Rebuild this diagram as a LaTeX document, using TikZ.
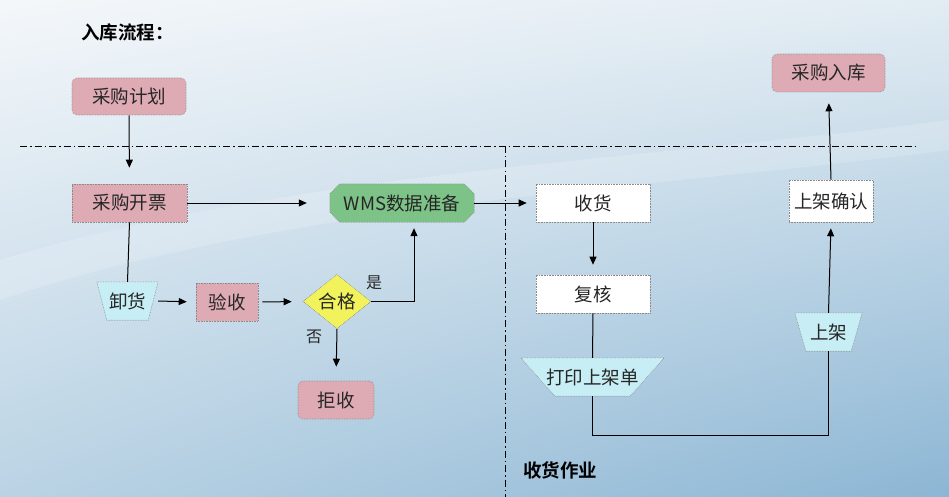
\documentclass[tikz,border=0pt]{standalone}
\usepackage{fontspec}
\setmainfont{Noto Sans CJK SC}[BoldFont={* Bold}]
\usetikzlibrary{arrows.meta,shapes.geometric,shadings}
\pgfdeclarelayer{bgimg}
\pgfdeclarelayer{bg}
\pgfsetlayers{bgimg,bg,main}
\definecolor{pinkf}{HTML}{DEABB4}
\definecolor{greenf}{HTML}{7DC287}
\definecolor{yellowf}{HTML}{F2F25C}
\definecolor{cyanf}{HTML}{C6EEF4}
\definecolor{bordc}{HTML}{8A8A8A}
\definecolor{txtc}{HTML}{262626}
\definecolor{bgul}{HTML}{F4F7FA}
\definecolor{bgur}{HTML}{E2ECF3}
\definecolor{bgll}{HTML}{BAD3E4}
\definecolor{bglr}{HTML}{8CB6D4}
\tikzset{
  x=1pt, y=-1pt,
  lbl/.style={font=\fontsize{18.5}{22}\selectfont, text=txtc, inner sep=0pt},
  boxbase/.style={lbl, draw=bordc, densely dotted, line width=0.6pt},
  pinkbox/.style={boxbase, fill=pinkf, rectangle},
  pinkround/.style={pinkbox, rounded corners=5pt},
  whitebox/.style={boxbase, fill=white, rectangle},
  shapefill/.style={draw=bordc, densely dotted, line width=0.6pt},
  arr/.style={-{Triangle[length=8pt,width=7pt]}, line width=1pt, black},
  ln/.style={line width=1pt, black},
  dashdot/.style={line width=0.8pt, dash pattern=on 7pt off 3pt on 1.5pt off 3pt},
  ttl/.style={font=\bfseries\fontsize{18.5}{22}\selectfont, anchor=west, inner sep=0pt, text=black},
}
\begin{document}
\begin{tikzpicture}
\useasboundingbox (0,0) rectangle (949,497);
% background
\begin{pgfonlayer}{bgimg}
\shade[upper left=bgul, upper right=bgur, lower left=bgll, lower right=bglr]
  (0,0) rectangle (949,497);
\fill[white, opacity=0.18] (0,300) .. controls (300,200) and (650,190) .. (949,150) -- (949,120) .. controls (650,160) and (300,170) .. (0,260) -- cycle;
\end{pgfonlayer}

% titles
\node[ttl] (title) at (81,32) {入库流程：};
\node[ttl] (sh) at (523,470) {收货作业};

% separators
\coordinate (hl) at (20,146);
\coordinate (hr) at (917,146);
\coordinate (vt) at (505,146);
\coordinate (vb) at (505,497);
\draw[dashdot] (hl) -- (hr);
\draw[dashdot] (vt) -- (vb);

% nodes
\node[pinkround, minimum width=114pt, minimum height=37pt] (jh) at (129,96.5) {采购计划};
\node[pinkbox, minimum width=115pt, minimum height=38pt] (kp) at (129.5,203) {采购开票};
\node[lbl, minimum width=144pt, minimum height=38pt] (wms) at (402,203) {WMS数据准备};
\begin{pgfonlayer}{bg}
\filldraw[shapefill, fill=greenf] ([xshift=10pt]wms.north west) -- ([xshift=-10pt]wms.north east) -- ([yshift=-10pt]wms.north east) -- ([yshift=10pt]wms.south east) -- ([xshift=-10pt]wms.south east) -- ([xshift=10pt]wms.south west) -- ([yshift=10pt]wms.south west) -- ([yshift=-10pt]wms.north west) -- cycle;
\end{pgfonlayer}
\node[whitebox, minimum width=114pt, minimum height=38pt] (shou) at (593,203) {收货};
\node[lbl, minimum width=61pt, minimum height=38pt] (xh) at (127.5,301) {卸货};
\begin{pgfonlayer}{bg}
\filldraw[shapefill, fill=cyanf] (xh.north west) -- (xh.north east) -- ([xshift=-10pt]xh.south east) -- ([xshift=10pt]xh.south west) -- cycle;
\end{pgfonlayer}
\node[pinkbox, minimum width=62pt, minimum height=38pt] (ys) at (227,302) {验收};
\node[lbl, diamond, draw=bordc, densely dotted, line width=0.6pt, fill=yellowf, minimum width=68pt, minimum height=53pt] (hg) at (337,301.5) {合格};
\node[pinkround, minimum width=76pt, minimum height=38pt] (js) at (336,400) {拒收};
\node[lbl, font=\fontsize{16}{19}\selectfont] (shi) at (374,283) {是};
\node[lbl, font=\fontsize{16}{19}\selectfont] (fou) at (314,337) {否};
\node[whitebox, minimum width=114pt, minimum height=38pt] (fh) at (593,294) {复核};
\node[lbl, minimum width=143pt, minimum height=38pt] (dy) at (592.5,377) {打印上架单};
\begin{pgfonlayer}{bg}
\filldraw[shapefill, fill=cyanf] (dy.north west) -- (dy.north east) -- ([xshift=-34pt]dy.south east) -- ([xshift=34pt]dy.south west) -- cycle;
\end{pgfonlayer}
\node[lbl, minimum width=67pt, minimum height=38pt] (sj) at (828.5,332) {上架};
\begin{pgfonlayer}{bg}
\filldraw[shapefill, fill=cyanf] (sj.north west) -- (sj.north east) -- ([xshift=-11pt]sj.south east) -- ([xshift=11pt]sj.south west) -- cycle;
\end{pgfonlayer}
\node[whitebox, minimum width=84pt, minimum height=42pt] (qr) at (831,201) {上架确认};
\node[pinkround, minimum width=113pt, minimum height=38pt] (rk) at (828.5,73) {采购入库};

% connectors
\draw[arr, shorten >=16pt] (jh.south) -- (kp.north);
\draw[arr, shorten >=23pt] (kp.east) -- (wms.west);
\draw[arr, shorten >=9pt] (wms.east) -- (shou.west);
\draw[ln] (kp.south) -- (xh.north);
\draw[arr, shorten >=9pt] (xh.east) -- (ys.west);
\draw[arr, shorten <=4pt, shorten >=11pt] (ys.east) -- (hg.west);
\draw[arr, shorten >=6pt] (hg.east) -| ([xshift=12pt]wms.south);
\draw[arr, shorten >=14pt] (hg.south) -- (js.north);
\draw[arr, shorten >=10pt] (shou.south) -- (fh.north);
\draw[ln] (fh.south) -- (dy.north);
\draw[ln] (dy.south) -- ++(0,39) -| (sj.south);
\draw[arr, shorten >=6pt] (sj.north) -- (qr.south);
\draw[arr, shorten >=11pt] (qr.north) -- (rk.south);
\end{tikzpicture}
\end{document}
